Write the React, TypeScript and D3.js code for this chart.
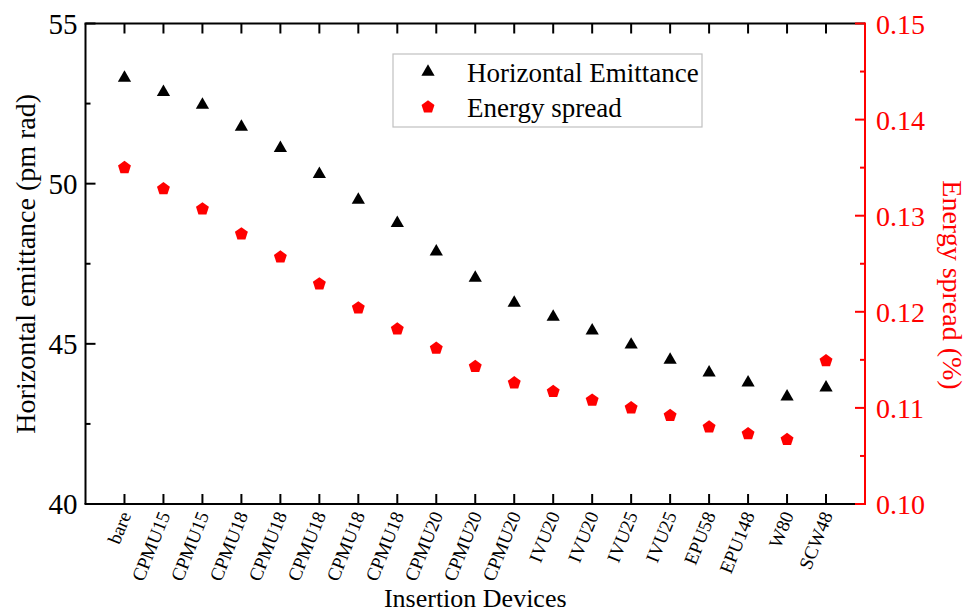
import React from "react";
import * as d3 from "d3";

const categories = [
  "bare", "CPMU15", "CPMU15", "CPMU18", "CPMU18", "CPMU18", "CPMU18", "CPMU18",
  "CPMU20", "CPMU20", "CPMU20", "IVU20", "IVU20", "IVU25", "IVU25", "EPU58",
  "EPU148", "W80", "SCW48",
];
const emittance = [
  53.3, 52.86, 52.46, 51.77, 51.11, 50.3, 49.49, 48.77, 47.88, 47.06, 46.28,
  45.84, 45.41, 44.97, 44.5, 44.1, 43.79, 43.35, 43.63,
];
const energySpread = [
  0.135, 0.1328, 0.1307, 0.1281, 0.1257, 0.1229, 0.1204, 0.1182, 0.1162, 0.1143,
  0.1126, 0.1117, 0.1108, 0.11, 0.1092, 0.108, 0.1073, 0.1067, 0.1149,
];
const leftTicks = [40, 45, 50, 55];
const leftMinor = [42.5, 47.5, 52.5];
const rightTicks = [0.1, 0.11, 0.12, 0.13, 0.14, 0.15];
const rightMinor = [0.105, 0.115, 0.125, 0.135, 0.145];

const FONT = "'Liberation Serif', 'Times New Roman', serif";
const W = 971;
const H = 615;
const L = 85.5;
const R = 865;
const T = 23.5;
const B = 504;

function pentagonPath(r: number) {
  const pts: [number, number][] = d3.range(5).map((k) => {
    const a = -Math.PI / 2 + (k * 2 * Math.PI) / 5;
    return [r * Math.cos(a), r * Math.sin(a)];
  });
  return (d3.line()(pts) || "") + "Z";
}

export default function App() {
  const x = d3.scaleLinear().domain([0, categories.length + 1]).range([L, R]);
  const yL = d3.scaleLinear().domain([40, 55]).range([B, T]);
  const yR = d3.scaleLinear().domain([0.1, 0.15]).range([B, T]);
  const tri = d3.symbol().type(d3.symbolTriangle).size(76)() || "";
  const pent = pentagonPath(6.8);
  const red = "#ff0000";

  return (
    <svg
      width={W}
      height={H}
      style={{ position: "absolute", left: 0, top: 0, background: "#fff" }}
      fontFamily={FONT}
    >
      <rect x={0} y={0} width={W} height={H} fill="#fff" />
      {/* frame */}
      <line x1={L} x2={L} y1={T} y2={B} stroke="#000" strokeWidth={2} />
      <line x1={L - 1} x2={R} y1={T} y2={T} stroke="#000" strokeWidth={2} />
      <line x1={L - 1} x2={R} y1={B} y2={B} stroke="#000" strokeWidth={2} />
      <line x1={R} x2={R} y1={T - 1} y2={B + 1} stroke={red} strokeWidth={2} />

      {/* x ticks */}
      {categories.map((c, i) => (
        <g key={"xt" + i}>
          <line x1={x(i + 1)} x2={x(i + 1)} y1={B} y2={B - 10} stroke="#000" strokeWidth={2} />
          <line x1={x(i + 1)} x2={x(i + 1)} y1={T} y2={T + 10} stroke="#000" strokeWidth={2} />
          <text
            transform={`translate(${x(i + 1) + 7},${B + 11}) rotate(-68)`}
            textAnchor="end"
            fontSize={19}
            fill="#000"
          >
            {c}
          </text>
        </g>
      ))}

      {/* left ticks */}
      {leftTicks.map((v) => (
        <g key={"lt" + v}>
          <line x1={L} x2={L + 10} y1={yL(v)} y2={yL(v)} stroke="#000" strokeWidth={2} />
          <text x={L - 8} y={yL(v) + 10} textAnchor="end" fontSize={29} fill="#000">
            {v}
          </text>
        </g>
      ))}
      {leftMinor.map((v) => (
        <line key={"lm" + v} x1={L} x2={L + 5} y1={yL(v)} y2={yL(v)} stroke="#000" strokeWidth={2} />
      ))}

      {/* right ticks */}
      {rightTicks.map((v) => (
        <g key={"rt" + v}>
          <line x1={R} x2={R - 10} y1={yR(v)} y2={yR(v)} stroke={red} strokeWidth={2} />
          <text x={R + 11} y={yR(v) + 10} textAnchor="start" fontSize={28} fill={red}>
            {v.toFixed(2)}
          </text>
        </g>
      ))}
      {rightMinor.map((v) => (
        <line key={"rm" + v} x1={R} x2={R - 5} y1={yR(v)} y2={yR(v)} stroke={red} strokeWidth={2} />
      ))}

      {/* axis titles */}
      <text
        transform={`translate(35,${(T + B) / 2}) rotate(-90)`}
        textAnchor="middle"
        fontSize={28}
        fill="#000"
      >
        Horizontal emittance (pm rad)
      </text>
      <text
        transform={`translate(943,285) rotate(90)`}
        textAnchor="middle"
        fontSize={28}
        fill={red}
      >
        Energy spread (%)
      </text>
      <text x={(L + R) / 2} y={607} textAnchor="middle" fontSize={26} fill="#000">
        Insertion Devices
      </text>

      {/* data */}
      {emittance.map((v, i) => (
        <path key={"e" + i} d={tri} transform={`translate(${x(i + 1)},${yL(v)})`} fill="#000" />
      ))}
      {energySpread.map((v, i) => (
        <path key={"s" + i} d={pent} transform={`translate(${x(i + 1)},${yR(v)})`} fill={red} />
      ))}

      {/* legend */}
      <rect x={393} y={54} width={309} height={73} fill="#fff" stroke="#c0c0c0" strokeWidth={1.2} />
      <path d={tri} transform="translate(428,72)" fill="#000" />
      <text x={467} y={82} fontSize={27} fill="#000">
        Horizontal Emittance
      </text>
      <path d={pent} transform="translate(428,107)" fill={red} />
      <text x={467} y={117} fontSize={27} fill="#000">
        Energy spread
      </text>
    </svg>
  );
}
